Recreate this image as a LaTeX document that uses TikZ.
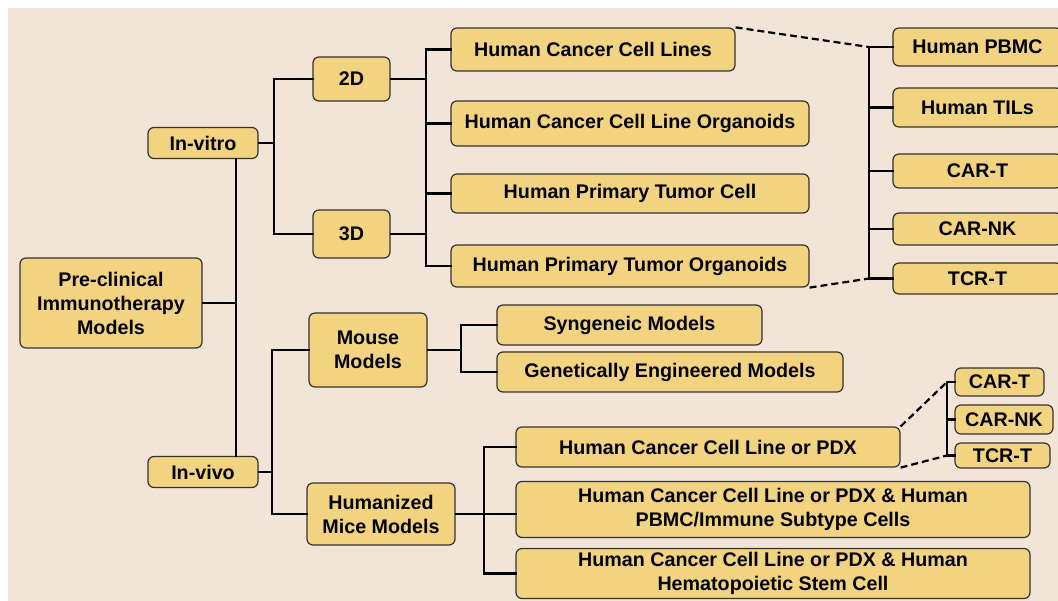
\documentclass[tikz,border=0pt]{standalone}
\usepackage{fontspec}
\setmainfont{Liberation Sans}

\definecolor{bgpeach}{HTML}{F3E4D8}
\definecolor{boxfill}{HTML}{F2D37F}
\definecolor{boxline}{HTML}{333333}

\tikzset{
    box/.style={draw=boxline, fill=boxfill, line width=1.2pt, rounded corners=6pt,
        align=center, inner sep=0pt, text=black,
        font=\bfseries\fontsize{19.7}{24}\selectfont},
    wh/.style 2 args={minimum width=#1pt, minimum height=#2pt},
    conn/.style={line width=2.2pt, line cap=rect},
    dashconn/.style={line width=2.2pt, dash pattern=on 7pt off 4pt},
}

\begin{document}
\begin{tikzpicture}[x=1pt, y=-1pt]
    % Page and background
    \useasboundingbox (0,0) rectangle (1058,601);
    \clip (0,0) rectangle (1058,601);
    \fill[white] (0,0) rectangle (1058,601);
    \fill[bgpeach] (8,8) rectangle (1058,601);

    % Root and first level
    \node[box, wh={182}{90}] (root) at (111,303) {Pre-clinical\\Immunotherapy\\Models};
    \node[box, wh={110}{31}] (vitro) at (203,143) {In-vitro};
    \node[box, wh={110}{31}] (vivo) at (203,472) {In-vivo};

    % In-vitro branch
    \node[box, wh={77}{44}] (d2) at (351.5,79) {2D};
    \node[box, wh={77}{48}] (d3) at (351.5,234) {3D};
    \node[box, wh={284}{43}] (hccl) at (593,49.5) {Human Cancer Cell Lines};
    \node[box, wh={358}{45}] (hcclo) at (630,123.5) {Human Cancer Cell Line Organoids};
    \node[box, wh={358}{39}] (hptc) at (630,193.5) {Human Primary Tumor Cell};
    \node[box, wh={358}{42}] (hpto) at (630,266) {Human Primary Tumor Organoids};

    % Immune cells (cut at the right edge)
    \node[box, wh={169}{38}] (pbmc) at (977.5,47) {Human PBMC};
    \node[box, wh={169}{39}] (tils) at (977.5,107.5) {Human TILs};
    \node[box, wh={169}{34}] (cart) at (977.5,171) {CAR-T};
    \node[box, wh={169}{32}] (carnk) at (977.5,229) {CAR-NK};
    \node[box, wh={169}{31}] (tcrt) at (977.5,278.5) {TCR-T};

    % In-vivo branch
    \node[box, wh={118}{74}] (mouse) at (368,350) {Mouse\\Models};
    \node[box, wh={148}{62}] (human) at (381,514) {Humanized\\Mice Models};
    \node[box, wh={265}{40}] (syn) at (629.5,325) {Syngeneic Models};
    \node[box, wh={346}{40}] (gem) at (670,372) {Genetically Engineered Models};
    \node[box, wh={384}{40}] (pdx) at (708,447) {Human Cancer Cell Line or PDX};
    \node[box, wh={514}{56}] (pbmcc) at (773,509.5) {Human Cancer Cell Line or PDX \& Human\\PBMC/Immune Subtype Cells};
    \node[box, wh={514}{50}] (hsc) at (773,573.5) {Human Cancer Cell Line or PDX \& Human\\Hematopoietic Stem Cell};
    \node[box, wh={89}{28}] (cart2) at (999.5,382) {CAR-T};
    \node[box, wh={98}{29}] (carnk2) at (1004,419.5) {CAR-NK};
    \node[box, wh={95}{25}] (tcrt2) at (1002.5,455.5) {TCR-T};

    % Bus lines
    \coordinate (b0) at (236,0);
    \coordinate (b1) at (274,0);
    \coordinate (b2) at (426,0);
    \coordinate (b3) at (869,0);
    \coordinate (b4) at (947,0);
    \coordinate (b5) at (272,0);
    \coordinate (b6) at (461,0);
    \coordinate (b7) at (484,0);

    % Root to in-vitro / in-vivo
    \draw[conn] (root.east) -- (b0 |- root.east);
    \draw[conn] (b0 |- vitro.south) -- (b0 |- vivo.north);

    % In-vitro to 2D / 3D
    \draw[conn] (vitro.east) -- (b1 |- vitro.east);
    \draw[conn] (d2.west) -- (b1 |- d2.west) -- (b1 |- d3.west) -- (d3.west);

    % 2D / 3D to cell models
    \draw[conn] (d2.east) -- (b2 |- d2.east);
    \draw[conn] (d3.east) -- (b2 |- d3.east);
    \draw[conn] (b2 |- hccl.west) -- (b2 |- hpto.west);
    \foreach \n in {hccl,hcclo,hptc,hpto}
        \draw[conn] (b2 |- \n.west) -- (\n.west);

    % Immune cells
    \draw[conn] (b3 |- pbmc.west) -- (b3 |- tcrt.west);
    \foreach \n in {pbmc,tils,cart,carnk,tcrt}
        \draw[conn] (b3 |- \n.west) -- (\n.west);
    \draw[dashconn] (hccl.north east) -- (b3 |- pbmc.west);
    \draw[dashconn] (hpto.south east) -- (b3 |- tcrt.west);

    % In-vivo to mouse / humanized
    \draw[conn] (vivo.east) -- (b5 |- vivo.east);
    \draw[conn] (mouse.west) -- (b5 |- mouse.west) -- (b5 |- human.west) -- (human.west);

    % Mouse models
    \draw[conn] (mouse.east) -- (b6 |- mouse.east);
    \draw[conn] (syn.west) -- (b6 |- syn.west) -- (b6 |- gem.west) -- (gem.west);

    % Humanized mice
    \draw[conn] (human.east) -- (pbmcc.west |- human.east);
    \draw[conn] (pdx.west) -- (b7 |- pdx.west) -- (b7 |- hsc.west) -- (hsc.west);

    % CAR-T / CAR-NK / TCR-T for PDX
    \draw[conn] (b4 |- cart2.west) -- (b4 |- tcrt2.west);
    \foreach \n in {cart2,carnk2,tcrt2}
        \draw[conn] (b4 |- \n.west) -- (\n.west);
    \draw[dashconn] (pdx.north east) -- (b4 |- cart2.west);
    \draw[dashconn] (pdx.south east) -- (b4 |- tcrt2.west);
\end{tikzpicture}
\end{document}
